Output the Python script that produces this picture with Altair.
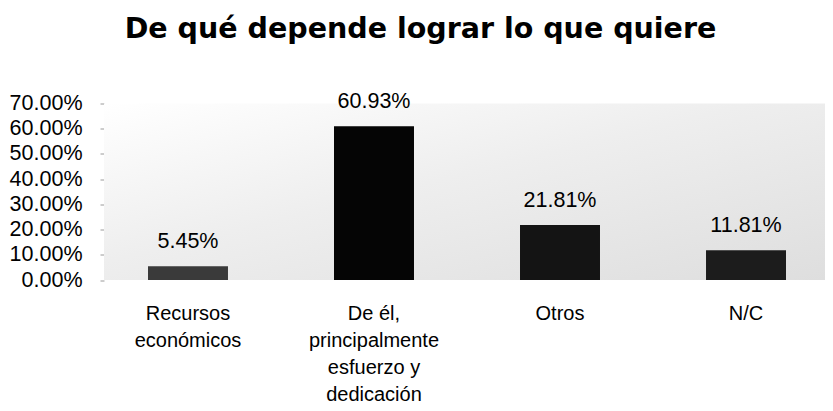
import altair as alt
import pandas as pd

# ---- data ----
categories = ["Recursos\neconómicos", "De él,\nprincipalmente\nesfuerzo y\ndedicación", "Otros", "N/C"]
values = [0.0545, 0.6093, 0.2181, 0.1181]
value_labels = ["5.45%", "60.93%", "21.81%", "11.81%"]
bar_colors = ["#3a3a3a", "#050505", "#141414", "#1c1c1c"]
y_ticks = [0.0, 0.1, 0.2, 0.3, 0.4, 0.5, 0.6, 0.7]
title_text = "De qué depende lograr lo que quiere"

df = pd.DataFrame({"cat": categories, "val": values, "lab": value_labels, "col": bar_colors})

W = 721
H = 176.5
FONT = "Liberation Sans"

x_enc = alt.X(
    "cat:N",
    sort=categories,
    scale=alt.Scale(range=[44, 682], paddingInner=0.57, paddingOuter=0),
    axis=alt.Axis(
        title=None,
        labelAngle=0,
        labelExpr="split(datum.label, '\\n')",
        labelFont=FONT,
        labelFontSize=20,
        labelLineHeight=27,
        labelColor="#000000",
        labelPadding=23,
        labelBaseline="top",
        ticks=False,
        domain=False,
    ),
)
y_enc = alt.Y(
    "val:Q",
    scale=alt.Scale(domain=[0, 0.7], nice=False, zero=True),
    axis=alt.Axis(
        title=None,
        values=y_ticks,
        format=".2%",
        labelFont=FONT,
        labelFontSize=21.5,
        labelColor="#000000",
        labelPadding=18,
        labelOverlap=False,
        labelFlush=False,
        tickSize=4,
        tickColor="#9a9a9a",
        domain=False,
        grid=False,
    ),
)

bg = alt.Chart(pd.DataFrame({"a": [0]})).mark_rect(
    color=alt.Gradient(
        gradient="linear",
        x1=0, y1=0, x2=1, y2=1,
        stops=[
            alt.GradientStop(offset=0, color="#ffffff"),
            alt.GradientStop(offset=0.45, color="#eeeeee"),
            alt.GradientStop(offset=1, color="#dedede"),
        ],
    )
).encode(x=alt.value(0), x2=alt.value(W), y=alt.value(0), y2=alt.value(H))

bars = alt.Chart(df).mark_bar().encode(
    x=x_enc,
    y=y_enc,
    color=alt.Color("col:N", scale=None),
)

labels = alt.Chart(df).mark_text(
    font=FONT, fontSize=21.5, color="#000000", baseline="alphabetic", dy=-18
).encode(x=x_enc, y=y_enc, text="lab:N")

chart = (
    alt.layer(bg, bars, labels)
    .properties(
        width=W,
        height=H,
        autosize=alt.AutoSizeParams(type="none"),
        padding={"left": 96, "top": 95.5, "right": 0, "bottom": 123},
        title=alt.TitleParams(
            text=title_text,
            font="DejaVu Sans",
            fontSize=28.5,
            fontWeight="bold",
            color="#000000",
            anchor="middle",
            dx=-44,
            offset=48,
        ),
        background="#ffffff",
    )
    .configure_view(stroke=None)
)

chart.save("out.html", embed_options={"renderer": "svg", "actions": False})
